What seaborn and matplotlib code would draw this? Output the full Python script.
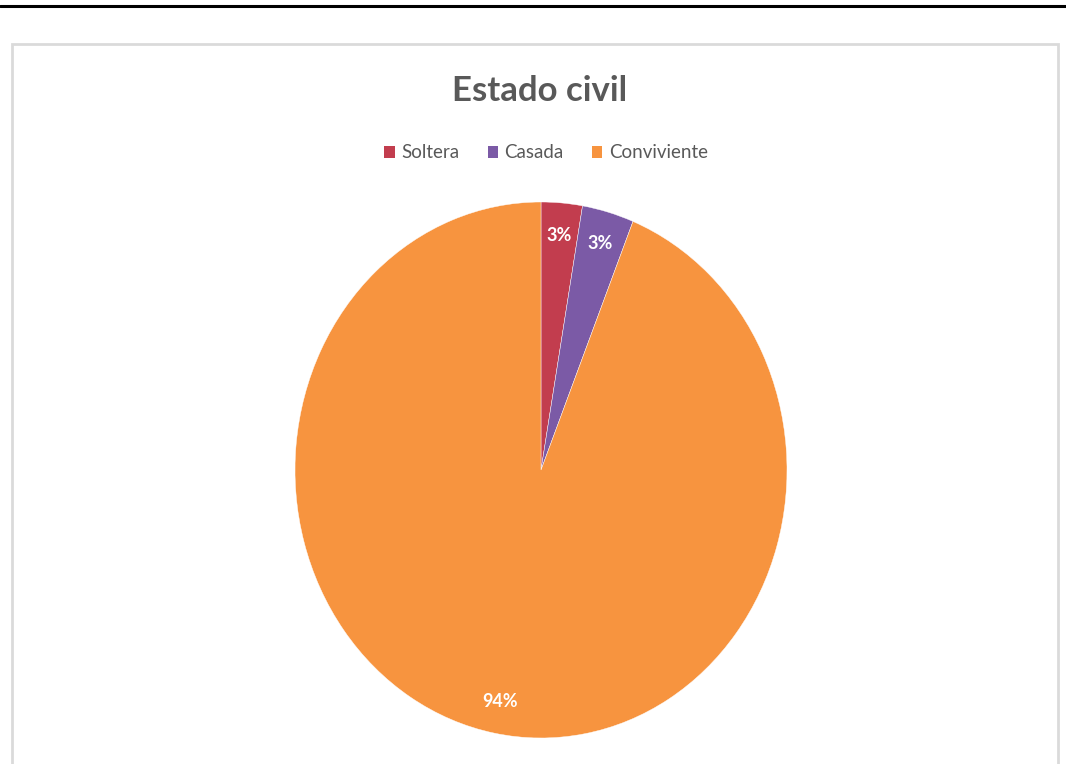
import matplotlib
matplotlib.use("Agg")
import matplotlib.pyplot as plt
import matplotlib.patches as mpatches
from matplotlib.lines import Line2D
import numpy as np
import seaborn as sns

# ---- data ----
title = "Estado civil"
categories = ["Soltera", "Casada", "Conviviente"]
values = [2.7, 3.4, 93.9]
labels_pct = ["3%", "3%", "94%"]
colors = ["#C23D4E", "#7B5AA6", "#F7943F"]

sns.set_theme(style="white")
plt.rcParams["font.family"] = ["Lato", "DejaVu Sans"]

W, H = 1066, 764
fig = plt.figure(figsize=(W / 100, H / 100), dpi=100)
fig.patch.set_facecolor("white")

def fx(px):
    return px / W

def fy(py):
    return 1 - py / H

# top rule of the page
fig.add_artist(Line2D([0, 1], [fy(6), fy(6)], transform=fig.transFigure,
                      color="black", lw=2.2))

# chart frame
fig.add_artist(mpatches.Rectangle((fx(12), fy(H + 5)), fx(1058) - fx(12), fy(44) - fy(H + 5),
                                  transform=fig.transFigure, fill=False,
                                  edgecolor="#DADADA", lw=2.0))

# pie axes (slightly elliptical as in reference)
cx, cy, rx, ry = 541, 470, 246, 268
ax = fig.add_axes([fx(cx - rx), fy(cy + ry), 2 * rx / W, 2 * ry / H])
wedges, _ = ax.pie(values, colors=colors, startangle=90, counterclock=False,
                   radius=1.0, wedgeprops=dict(edgecolor="white", linewidth=0.3))
ax.set_aspect("auto")
ax.set_xlim(-1, 1)
ax.set_ylim(-1, 1)
ax.axis("off")

start = 90.0
total = sum(values)
for v, lab in zip(values, labels_pct):
    ang = start - 360 * v / total / 2
    start -= 360 * v / total
    r = 0.88
    ax.text(r * np.cos(np.deg2rad(ang)), r * np.sin(np.deg2rad(ang)), lab,
            ha="center", va="center", color="white", fontsize=13, fontweight="bold")

# title
fig.text(fx(540), fy(91), title, ha="center", va="center", fontsize=25,
         fontweight="bold", color="#595959")

# legend
handles = [mpatches.Patch(facecolor=c, edgecolor="none", label=n) for c, n in zip(colors, categories)]
fig.legend(handles=handles, loc="center", bbox_to_anchor=(fx(546), fy(153)),
           ncol=3, frameon=False, fontsize=13.5, handlelength=0.55, handleheight=0.55,
           handletextpad=0.35, columnspacing=1.5, labelcolor="#595959")

fig.savefig("out.png", dpi=100)
